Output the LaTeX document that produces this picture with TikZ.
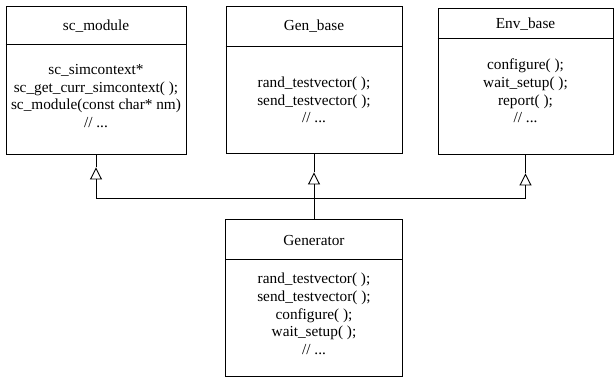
\documentclass[tikz,border=0pt]{standalone}
\usepackage{fontspec}
\setmainfont{Liberation Serif}
\usetikzlibrary{arrows.meta,calc}
\begin{document}
\begin{tikzpicture}[x=1pt,y=-1pt,
  classbox/.style={draw,line width=0.9pt,rectangle,inner sep=0pt},
  txt/.style={font=\fontsize{15.3}{17.6}\selectfont,align=center,inner sep=0pt},
  inh/.style={-{Triangle[open,width=12pt,length=12pt]},line width=0.9pt},
  wire/.style={line width=0.9pt}]
\useasboundingbox (0,0) rectangle (614,379);
% sc_module
\node[classbox,minimum width=180pt,minimum height=148pt] (m) at (96,80) {};
\draw[wire] ($(m.north west)+(0,39)$) -- ($(m.north east)+(0,39)$);
\node[txt] (mh) at (96,26) {sc\_module};
\node[txt] (mb) at (96,96) {sc\_simcontext*\\sc\_get\_curr\_simcontext( );\\sc\_module(const char* nm)\\// ...};
% Gen_base
\node[classbox,minimum width=176pt,minimum height=147pt] (gb) at (314,79.5) {};
\draw[wire] ($(gb.north west)+(0,41)$) -- ($(gb.north east)+(0,41)$);
\node[txt] (gbh) at (314,26) {Gen\_base};
\node[txt] (gbb) at (314,100) {rand\_testvector( );\\send\_testvector( );\\// ...};
% Env_base
\node[classbox,minimum width=175pt,minimum height=146pt] (eb) at (525.5,81) {};
\draw[wire] ($(eb.north west)+(0,31)$) -- ($(eb.north east)+(0,31)$);
\node[txt] (ebh) at (525.5,24) {Env\_base};
\node[txt] (ebb) at (525.5,91) {configure( );\\wait\_setup( );\\report( );\\// ...};
% Generator
\node[classbox,minimum width=177pt,minimum height=157pt] (g) at (314,297.5) {};
\draw[wire] ($(g.north west)+(0,41)$) -- ($(g.north east)+(0,41)$);
\node[txt] (gh) at (314,241) {Generator};
\node[txt] (gbody) at (314,314) {rand\_testvector( );\\send\_testvector( );\\configure( );\\wait\_setup( );\\// ...};
% connectors
\coordinate (bus) at (0,198);
\coordinate (t1) at ($(m.south)+(0,13)$);
\coordinate (t2) at ($(gb.south)+(0,19)$);
\coordinate (t3) at ($(eb.south)+(0,19)$);
\draw[wire] (m.south |- bus) -- (eb.south |- bus);
\draw[inh] (m.south |- bus) -- (t1);
\draw[wire] (t1) -- (m.south);
\draw[inh] (g.north) -- (t2);
\draw[wire] (t2) -- (gb.south);
\draw[inh] (eb.south |- bus) -- (t3);
\draw[wire] (t3) -- (eb.south);
\end{tikzpicture}
\end{document}
